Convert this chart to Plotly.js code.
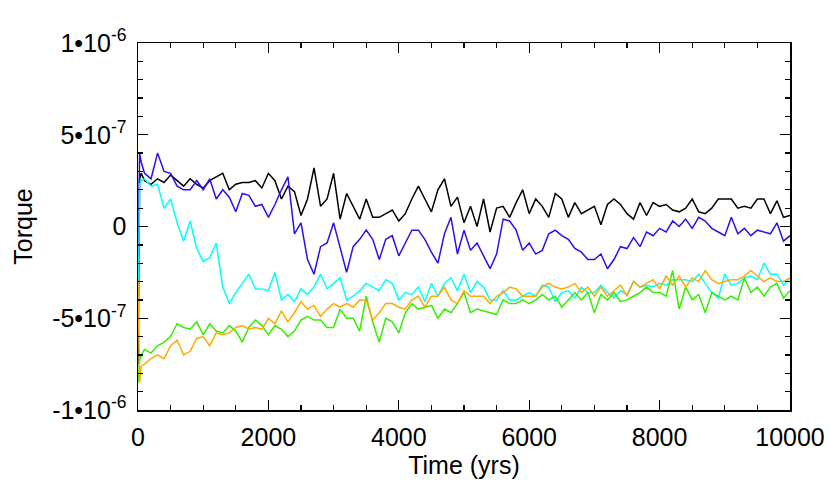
<!DOCTYPE html>
<html>
<head>
<meta charset="utf-8">
<script src="https://cdn.plot.ly/plotly-3.0.1.min.js"></script>
<style>
  html, body { margin: 0; padding: 0; background: #fff; }
  #torque-plot { width: 830px; height: 499px; }
</style>
</head>
<body>
<div id="torque-plot"></div>
<script>
// time in years
const years = [0, 25, 50, 100, 200, 300, 400, 500, 600, 700, 800, 900, 1000,
    1100, 1200, 1300, 1400, 1500, 1600, 1700, 1800, 1900, 2000,
    2100, 2200, 2300, 2400, 2500, 2600, 2700, 2800, 2900, 3000,
    3100, 3200, 3300, 3400, 3500, 3600, 3700, 3800, 3900, 4000,
    4100, 4200, 4300, 4400, 4500, 4600, 4700, 4800, 4900, 5000,
    5100, 5200, 5300, 5400, 5500, 5600, 5700, 5800, 5900, 6000,
    6100, 6200, 6300, 6400, 6500, 6600, 6700, 6800, 6900, 7000,
    7100, 7200, 7300, 7400, 7500, 7600, 7700, 7800, 7900, 8000,
    8100, 8200, 8300, 8400, 8500, 8600, 8700, 8800, 8900, 9000,
    9100, 9200, 9300, 9400, 9500, 9600, 9700, 9800, 9900, 10000]

// torque, in units of 1e-7
const UNIT = 1e-7
const torqueBlack = [-7.5, 2.6, 2.9, 2.5, 2.3, 2.6, 2.4, 2.8, 2.5, 2.2, 2.6, 2.3, 2.1,
    2.5, 2.7, 2.9, 2.0, 2.3, 2.4, 2.4, 2.5, 2.1, 2.9,
    2.5, 1.5, 2.2, 1.9, 0.6, 1.5, 3.2, 1.1, 1.5, 2.9,
    0.4, 1.8, 1.1, 0.4, 1.5, 0.5, 0.5, 0.7, 0.9, 0.3,
    0.7, 1.5, 2.2, 1.5, 0.8, 2.0, 2.6, 1.1, 1.6, 0.2,
    1.1, 0.0, 1.5, -0.3, 1.0, 1.1, 0.5, 1.3, 2.0, 0.7,
    1.5, 1.1, 0.5, 1.8, 1.5, 0.5, 1.3, 0.7, 0.9, 1.1,
    0.1, 1.2, 1.5, 1.2, 0.7, 0.4, 1.3, 0.6, 1.3, 1.1,
    1.2, 0.9, 0.8, 1.0, 1.5, 0.8, 0.7, 1.0, 1.5, 1.5,
    1.5, 1.0, 1.1, 1.0, 1.5, 1.5, 0.7, 1.4, 0.5, 0.6]
const torqueBlue = [-2.7, 4.0, 3.5, 2.9, 2.6, 4.0, 3.0, 2.9, 2.2, 2.0, 2.0, 2.5, 2.0,
    2.6, 1.5, 2.0, 1.6, 0.8, 1.8, 1.7, 1.1, 1.2, 0.5,
    1.2, 2.0, 2.7, -0.4, 0.2, -1.8, -2.6, -1.1, -0.9, 0.2,
    -1.1, -2.5, -1.1, -0.7, -0.2, -0.7, -1.8, -0.7, -0.5, -1.6,
    -0.9, -0.2, -0.2, -0.7, -1.4, -2.0, -0.4, 0.5, -1.5, -0.2,
    -1.3, -0.9, -1.6, -2.3, -1.5, 0.4, 0.3, -0.2, -1.3, -0.9,
    -1.5, -1.3, -0.4, -0.2, -0.5, -0.7, -1.2, -1.4, -1.8, -1.8,
    -1.5, -2.3, -1.8, -1.1, -1.2, -0.6, -1.1, -0.3, -0.5, -0.1,
    -0.3, 0.3, 0.0, 0.4, -0.1, 0.5, 0.3, -0.1, -0.3, -0.5,
    0.5, -0.4, -0.1, -0.5, -0.2, -0.3, -0.4, 0.2, -0.8, -0.5]
const torqueCyan = [-5.6, 2.3, 2.5, 2.6, 2.2, 2.3, 1.0, 1.5, 0.2, -0.8, 0.3, -1.2, -1.9,
    -1.7, -0.9, -3.3, -4.2, -3.6, -3.1, -2.6, -3.4, -3.4, -3.5,
    -2.5, -4.0, -3.7, -4.1, -3.4, -3.7, -3.3, -2.6, -3.4, -3.1,
    -2.8, -4.0, -3.8, -3.5, -3.1, -3.3, -3.5, -2.9, -3.1, -4.0,
    -3.6, -3.7, -3.3, -4.1, -3.1, -3.8, -3.1, -2.8, -3.5, -2.6,
    -3.6, -3.0, -3.3, -4.0, -4.0, -3.5, -4.0, -4.0, -3.8, -3.6,
    -3.8, -3.2, -3.3, -4.1, -3.6, -3.5, -3.9, -3.3, -3.6, -3.6,
    -3.2, -3.6, -3.9, -3.5, -3.7, -3.0, -3.3, -3.2, -3.3, -3.1,
    -3.2, -2.9, -2.9, -2.9, -3.0, -2.6, -3.1, -3.6, -3.9, -2.6,
    -3.2, -3.1, -2.8, -2.7, -2.9, -2.0, -2.6, -2.6, -3.2, -2.8]
const torqueGreen = [-8.5, -7.3, -7.0, -6.7, -6.9, -6.5, -6.3, -6.0, -5.3, -5.5, -5.6, -5.2, -5.9,
    -5.3, -5.7, -5.8, -5.4, -5.7, -6.3, -5.5, -5.1, -5.4, -5.9,
    -5.4, -5.6, -6.0, -5.7, -5.1, -4.9, -5.1, -5.1, -5.5, -5.5,
    -4.5, -5.0, -5.0, -5.7, -3.8, -5.2, -6.3, -5.0, -5.2, -5.8,
    -4.7, -4.2, -4.5, -4.4, -4.3, -5.0, -4.5, -4.7, -4.2, -3.6,
    -4.7, -4.5, -4.6, -4.7, -4.8, -4.0, -4.2, -4.2, -4.0, -4.2,
    -4.0, -3.7, -4.0, -3.8, -4.4, -4.0, -3.6, -4.0, -3.6, -4.7,
    -3.7, -4.0, -3.6, -4.1, -4.0, -3.8, -3.6, -3.3, -3.6, -3.6,
    -3.8, -2.4, -4.5, -3.3, -4.0, -3.7, -4.7, -3.6, -3.8, -4.0,
    -3.8, -4.0, -2.8, -3.6, -3.3, -3.8, -3.3, -3.1, -3.9, -3.5]
const torqueOrange = [-2.9, -8.5, -7.6, -7.5, -7.2, -7.0, -7.2, -6.5, -6.2, -7.0, -6.8, -6.1, -6.0,
    -6.5, -5.8, -5.9, -5.8, -5.5, -5.4, -5.6, -5.5, -5.6, -5.0,
    -5.3, -4.6, -5.2, -4.7, -4.1, -4.5, -4.3, -4.9, -4.5, -4.2,
    -4.4, -4.2, -4.4, -4.0, -4.0, -5.1, -4.7, -4.2, -4.2, -4.4,
    -4.5, -4.0, -3.8, -4.4, -3.8, -3.8, -3.3, -4.0, -4.2, -3.5,
    -3.8, -3.8, -3.8, -4.2, -3.8, -3.6, -3.3, -3.4, -3.8, -3.8,
    -3.8, -3.3, -3.1, -3.3, -3.4, -3.3, -3.1, -3.6, -3.3, -3.8,
    -3.3, -3.8, -3.5, -3.2, -3.8, -3.0, -3.3, -3.1, -2.9, -3.4,
    -2.7, -3.2, -2.7, -3.3, -2.8, -3.0, -2.4, -2.9, -3.1, -3.0,
    -2.9, -2.9, -2.7, -2.4, -2.7, -3.0, -2.8, -3.0, -3.0, -2.8]

const yTickVals = [-1e-6, -5e-7, 0, 5e-7, 1e-6]
const yTickText = ['-1•10<sup>-6</sup>', '-5•10<sup>-7</sup>', '0', '5•10<sup>-7</sup>', '1•10<sup>-6</sup>']

const series = [
    [torqueBlack, '#000000'],
    [torqueBlue, '#2a10f0'],
    [torqueCyan, '#00ffff'],
    [torqueGreen, '#33ee00'],
    [torqueOrange, '#ffaa00'],
]

let data = series.map(([vals, color]) => ({
    mode: 'lines',
    x: years,
    y: vals.map(v => v * UNIT),
    line: { width: 1.5, color: color },
    hoverinfo: 'skip',
}))

const font = { family: 'Liberation Sans, Arial, sans-serif', size: 25, color: '#000' }

const axisBase = {
    showgrid: false,
    zeroline: false,
    showline: true,
    linecolor: '#000',
    linewidth: 1.5,
    mirror: 'allticks',
    ticks: 'inside',
    ticklen: 10,
    tickwidth: 1.3,
    tickcolor: '#000',
    tickfont: font,
}

const layout = {
    width: 830,
    height: 499,
    margin: { l: 138, r: 40, t: 43, b: 89 },
    paper_bgcolor: '#fff',
    plot_bgcolor: '#fff',
    showlegend: false,
    hovermode: false,
    xaxis: {
        ...axisBase,
        range: [0, 10000],
        tickmode: 'linear',
        tick0: 0,
        dtick: 2000,
        tickformat: 'd',
        ticklabelstandoff: 4,
        minor: { dtick: 500, ticks: 'inside', ticklen: 5, tickwidth: 1.3, tickcolor: '#000' },
        title: { text: 'Time (yrs)', font: font, standoff: 2 },
    },
    yaxis: {
        ...axisBase,
        range: [-1e-6, 1e-6],
        tickmode: 'array',
        tickvals: yTickVals,
        ticktext: yTickText,
        ticklabelstandoff: 5,
        minor: { tickmode: 'linear', tick0: 0, dtick: 1e-7, ticks: 'inside', ticklen: 5, tickwidth: 1.3, tickcolor: '#000' },
        title: { text: 'Torque', font: font, standoff: 12 },
    },
}

Plotly.newPlot('torque-plot', data, layout, { displayModeBar: false, staticPlot: true })
</script>
</body>
</html>
